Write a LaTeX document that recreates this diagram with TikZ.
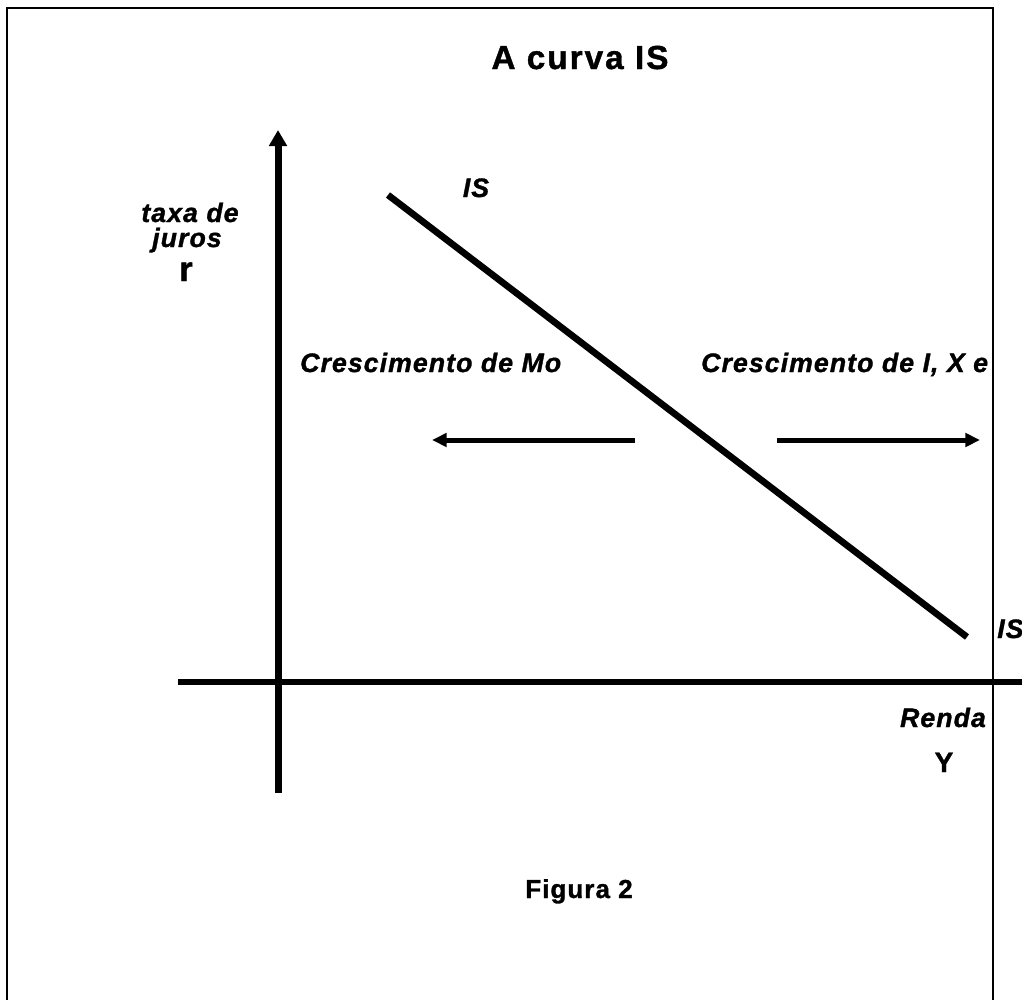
\documentclass[tikz,border=0pt]{standalone}
\usepackage{fontspec}
\setmainfont{Liberation Sans}
\newfontfamily\grafont[LetterSpace=4,FakeBold=1.2]{Liberation Sans}
\usetikzlibrary{arrows.meta}

\tikzset{
  rotulo/.style={inner sep=0pt, anchor=base, font=\grafont\bfseries\itshape\fontsize{20}{22}\selectfont},
  reto/.style={inner sep=0pt, anchor=base, font=\grafont\bfseries\fontsize{21}{24}\selectfont},
  titulo/.style={inner sep=0pt, anchor=base, font=\grafont\bfseries\fontsize{25}{28}\selectfont\addfontfeatures{LetterSpace=6}},
  legenda/.style={inner sep=0pt, anchor=base, font=\grafont\bfseries\fontsize{19.5}{21}\selectfont},
}

\begin{document}
\begin{tikzpicture}[x=0.75pt,y=-0.75pt,>={Triangle[length=11pt,width=10pt]}]
\useasboundingbox (0,0) rectangle (1022,1000);

% ===== moldura =====
\draw[line width=1.5pt] (7,1000) -- (7,8) -- (993,8) -- (993,1000);

% ===== eixos =====
\draw[->, >={Triangle[length=12pt,width=13pt]}, line width=5.25pt] (278,793) -- (278,130);
\draw[line width=4.5pt] (178,682) -- (1022,682);

% ===== curva IS =====
\draw[line width=5pt] (388,195) -- (967,637);

% ===== setas de deslocamento =====
\draw[->, line width=3.75pt] (635,440) -- (432,440);
\draw[->, line width=3.75pt] (777,440) -- (980,440);

% ===== textos =====
\node[titulo] (tit) at (580,69) {A curva IS};
\node[rotulo] (isTopo) at (476,197) {IS};
\node[rotulo, anchor=base west] (isFim) at (997,638) {IS};
\node[rotulo] (taxa) at (190,222) {taxa de};
\node[rotulo] (juros) at (187,247) {juros};
\node[reto, font=\grafont\bfseries\fontsize{26}{28}\selectfont] (r) at (186,281) {r};
\node[rotulo, anchor=base west] (cresMo) at (300,372) {Crescimento de Mo};
\node[rotulo, anchor=base west] (cresI) at (701,372) {Crescimento de I, X e};
\node[rotulo] (renda) at (943,727) {Renda};
\node[reto] (Y) at (944,772) {Y};
\node[legenda] (fig) at (579,898) {Figura 2};
\end{tikzpicture}
\end{document}
